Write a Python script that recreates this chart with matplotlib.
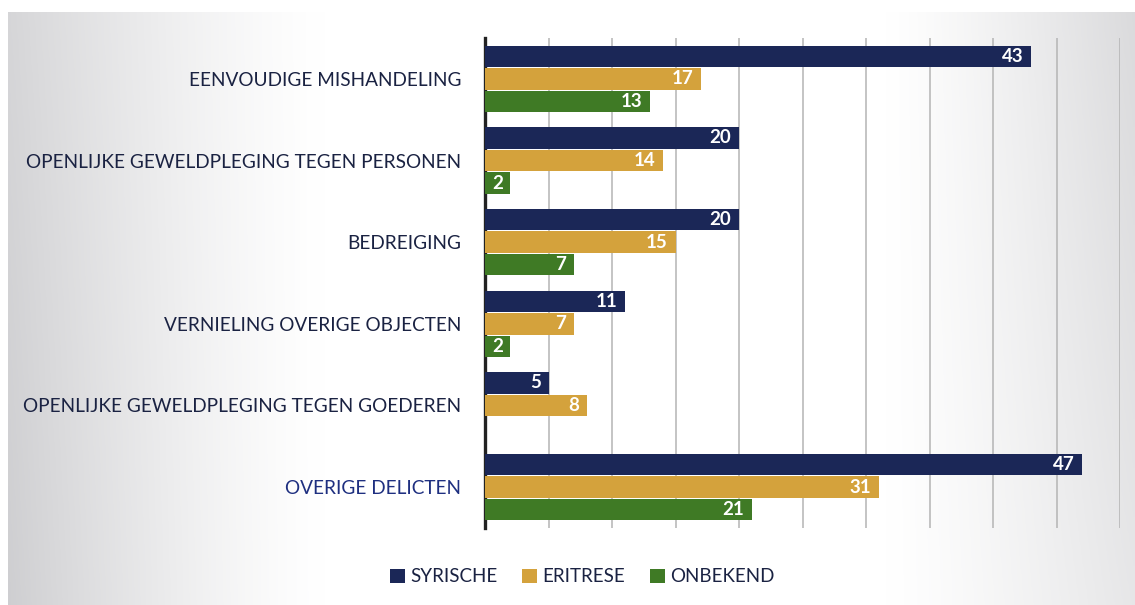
import numpy as np
import matplotlib.pyplot as plt
from matplotlib.patches import Patch

# delict categories and counts per nationality
delicten = ['EENVOUDIGE MISHANDELING',
            'OPENLIJKE GEWELDPLEGING TEGEN PERSONEN',
            'BEDREIGING',
            'VERNIELING OVERIGE OBJECTEN',
            'OPENLIJKE GEWELDPLEGING TEGEN GOEDEREN',
            'OVERIGE DELICTEN']
syrische = [43, 20, 20, 11, 5, 47]
eritrese = [17, 14, 15, 7, 8, 31]
onbekend = [13, 2, 7, 2, 0, 21]

series = ['SYRISCHE', 'ERITRESE', 'ONBEKEND']
colors = ['#1b2757', '#d4a23c', '#3f7a25']
navy = '#1a2242'

plt.rcParams['font.family'] = ['Lato', 'DejaVu Sans']

fig = plt.figure(figsize=(11.35, 6.05), dpi=100)

# soft grey backdrop, lighter in the middle
bg = fig.add_axes([8 / 1135, 0, 1 - 8 / 1135, 1 - 12 / 605], zorder=-1)
xs = np.linspace(0, 1, 400)
ys = np.linspace(0, 1, 200)
X, Y = np.meshgrid(xs, ys)
left = np.clip(1 - X / 0.28, 0, 1) ** 1.3 * (0.85 + 0.15 * Y)
right = np.clip((X - 0.78) / 0.22, 0, 1) ** 1.2 * (0.75 - 0.25 * Y)
shade = np.maximum(left, right)
g = 1 - 0.19 * shade
rgb = np.dstack([g, g, g + 0.01 * shade])
bg.imshow(np.clip(rgb, 0, 1), aspect='auto', extent=[0, 1, 0, 1], origin='upper')
bg.axis('off')

ax = fig.add_axes([485 / 1135, 1 - 528 / 605, 635 / 1135, 490 / 605])
ax.patch.set_alpha(0)

y = np.arange(len(delicten))
h = 0.262
offs = [-0.277, 0, 0.277]
for vals, off, c in zip([syrische, eritrese, onbekend], offs, colors):
    bars = ax.barh(y + off, vals, height=h, color=c, zorder=3)
    for b, v in zip(bars, vals):
        if v == 0:
            continue
        ax.text(v - 0.6, b.get_y() + b.get_height() / 2, str(v),
                ha='right', va='center', color='white', fontsize=13.5,
                fontweight='bold', zorder=4)

ax.set_xlim(0, 50)
ax.set_ylim(5.5, -0.5)
ax.set_xticks(np.arange(5, 51, 5))
ax.xaxis.grid(True, color='#b4b4b4', linewidth=1.1)
ax.set_axisbelow(True)
ax.tick_params(axis='x', length=0, labelbottom=False)
ax.set_yticks(y)
ax.set_yticklabels(delicten, fontsize=13.7, color=navy)
ax.get_yticklabels()[-1].set_color('#1e2f80')
ax.tick_params(axis='y', length=0, pad=17)
for s in ['top', 'right', 'bottom']:
    ax.spines[s].set_visible(False)
ax.spines['left'].set_linewidth(2.4)
ax.spines['left'].set_color('#222222')

handles = [Patch(facecolor=c, edgecolor='none') for c in colors]
fig.legend(handles, series, loc='center', bbox_to_anchor=(582 / 1135, 1 - 577 / 605),
           ncol=3, frameon=False, fontsize=13.5, handlelength=0.8, handleheight=0.8,
           handletextpad=0.3, columnspacing=1.3, labelcolor=navy)

fig.savefig('out.png', dpi=100)
